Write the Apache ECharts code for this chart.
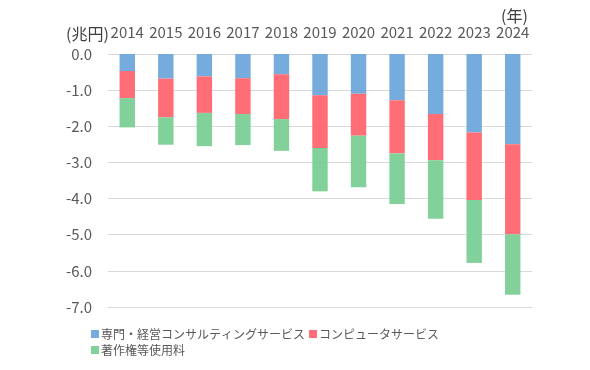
<!DOCTYPE html>
<html><head><meta charset="utf-8">
<script src="https://cdn.jsdelivr.net/npm/echarts@6/dist/echarts.min.js"></script>
<style>html,body{margin:0;padding:0;background:#fff}#c{width:590px;height:370px}</style>
</head><body><div id="c"></div>
<script>
const years = ['2014','2015','2016','2017','2018','2019','2020','2021','2022','2023','2024'];
const seriesNames = ['専門・経営コンサルティングサービス','コンピュータサービス','著作権等使用料'];
const consulting = [-0.47,-0.68,-0.62,-0.67,-0.56,-1.14,-1.10,-1.28,-1.66,-2.17,-2.50];
const computer = [-0.75,-1.07,-1.01,-0.99,-1.24,-1.46,-1.16,-1.47,-1.28,-1.87,-2.49];
const royalties = [-0.81,-0.76,-0.92,-0.86,-0.88,-1.20,-1.43,-1.40,-1.62,-1.74,-1.67];
const yTicks = [0,-1,-2,-3,-4,-5,-6,-7];

const font = '"Noto Sans CJK JP", "Noto Sans", sans-serif';
const colors = ['#6fa7dc','#ff6670','#7bcf96'];
const chart = echarts.init(document.getElementById('c'), null, {renderer:'canvas'});
const mk = (name, data, i) => ({
  name, type:'bar', stack:'total', data, barWidth:'40%',
  itemStyle:{color:colors[i], opacity:0.95}
});
chart.setOption({
  animation:false,
  textStyle:{fontFamily:font},
  grid:{left:108,right:58,top:54,bottom:63,containLabel:false},
  title:[
    {text:'(兆円)',left:61,top:21,textStyle:{fontSize:16,fontWeight:'normal',color:'#404040',fontFamily:font}},
    {text:'(年)',left:496,top:3,textStyle:{fontSize:16,fontWeight:'normal',color:'#404040',fontFamily:font}}
  ],
  xAxis:{type:'category',data:years,position:'top',
    axisLine:{show:false},axisTick:{show:false},
    axisLabel:{fontSize:15,color:'#595959',margin:14,fontFamily:font,interval:0,hideOverlap:false}},
  yAxis:{type:'value',min:Math.min(...yTicks),max:Math.max(...yTicks),interval:1,
    axisLabel:{fontSize:15,color:'#595959',margin:16,fontFamily:font,formatter:v=>v.toFixed(1)},
    splitLine:{lineStyle:{color:'#d9d9d9',width:1}},
    axisLine:{show:false},axisTick:{show:false}},
  legend:{left:86,top:323,width:360,itemWidth:8,itemHeight:8,itemGap:4,
    icon:'rect',textStyle:{fontSize:12,color:'#595959',fontFamily:font,padding:[0,0,0,-3]},
    data:seriesNames},
  series:[mk(seriesNames[0],consulting,0),mk(seriesNames[1],computer,1),mk(seriesNames[2],royalties,2)]
});
</script></body></html>
